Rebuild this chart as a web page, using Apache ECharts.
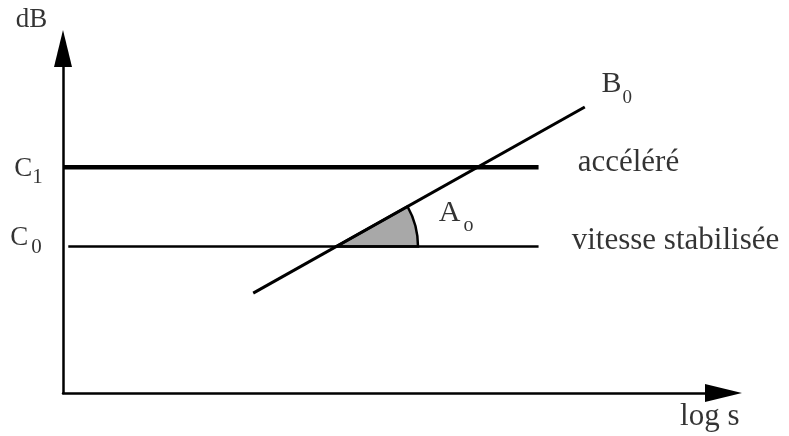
<!DOCTYPE html>
<html>
<head>
<meta charset="utf-8">
<script src="https://cdn.jsdelivr.net/npm/echarts@6/dist/echarts.min.js"></script>
<style>
  html, body { margin: 0; padding: 0; background: #fff; }
  #chart { width: 789px; height: 436px; }
</style>
</head>
<body>
<div id="chart"></div>
<script>
// axes run 0..10 in both directions (log s, dB)
const c1Line = [[0, 6.55], [7.2, 6.55]];      // accéléré
const c0Line = [[0.08, 4.25], [7.2, 4.25]];   // vitesse stabilisée
const b0Line = [[2.88, 2.90], [7.90, 8.30]];  // droite B0
const angleRadius = 1.24;                     // rayon de l'angle A0, en unités de log s

// annotations: text, anchor [x, y], align
const noteTexts   = ['dB', 'log s', '{m|C}{s1|1}', '{m|C}{s0|0}', '{m|B}{sb|0}', '{m|A}{sa|o}', 'accéléré', 'vitesse stabilisée'];
const noteAnchors = [[-0.47, 10.83], [9.80, -0.70], [-0.515, 6.50], [-0.553, 4.50], [8.39, 8.94], [5.96, 5.22], [7.80, 6.68], [7.71, 4.41]];
const noteAligns  = ['center', 'center', 'center', 'center', 'center', 'center', 'left', 'left'];
const noteSizes   = [27, 31, 27, 27, 30, 30, 31, 31];

const FONT = 'Liberation Serif';

// where B0 crosses C0: centre of the shaded angle
let t = (c0Line[0][1] - b0Line[0][1]) / (b0Line[1][1] - b0Line[0][1]);
let angleCentre = [b0Line[0][0] + t * (b0Line[1][0] - b0Line[0][0]), c0Line[0][1]];

let rich = {
  m:  { fontFamily: FONT, fontSize: 27, color: '#000' },
  s1: { fontFamily: FONT, fontSize: 21, color: '#000', padding: [18, 0, 0, 0] },
  s0: { fontFamily: FONT, fontSize: 21, color: '#000', padding: [20, 0, 0, 3] },
  sb: { fontFamily: FONT, fontSize: 19, color: '#000', padding: [27, 0, 0, 1] },
  sa: { fontFamily: FONT, fontSize: 20, color: '#000', padding: [26, 0, 0, 3] }
};

let notes = noteTexts.map(function (txt, i) {
  let r = JSON.parse(JSON.stringify(rich));
  r.m.fontSize = noteSizes[i];
  return {
    value: noteAnchors[i],
    label: {
      show: true,
      position: [0, 0],
      align: noteAligns[i],
      verticalAlign: 'middle',
      formatter: txt,
      fontFamily: FONT,
      fontSize: noteSizes[i],
      color: '#000',
      rich: r
    }
  };
});

function hline(data, width) {
  return {
    type: 'line',
    data: data,
    symbol: 'none',
    silent: true,
    z: 4,
    lineStyle: { color: '#000', width: width }
  };
}

let axisCommon = {
  type: 'value',
  min: 0,
  max: 10,
  splitLine: { show: false },
  axisTick: { show: false },
  axisLabel: { show: false },
  axisLine: {
    show: true,
    symbol: ['none', 'triangle'],
    symbolSize: [18, 37],
    lineStyle: { color: '#000', width: 2.5 }
  }
};

let myChart = echarts.init(document.getElementById('chart'), null, { renderer: 'canvas' });

option = {
  backgroundColor: '#fff',
  animation: false,
  grid: { left: 63, right: 65.5, top: 48.5, bottom: 43 },
  xAxis: axisCommon,
  yAxis: axisCommon,
  series: [
    {
      type: 'custom',
      z: 2,
      silent: true,
      data: [angleCentre],
      renderItem: function (params, api) {
        let c = api.coord([api.value(0), api.value(1)]);
        let edge = api.coord([api.value(0) + angleRadius, api.value(1)]);
        let far = api.coord(b0Line[1]);
        let ang = Math.atan2(far[1] - c[1], far[0] - c[0]);
        return {
          type: 'sector',
          shape: { cx: c[0], cy: c[1], r0: 0, r: edge[0] - c[0], startAngle: ang, endAngle: 0, clockwise: true },
          style: { fill: '#a8a8a8', stroke: '#000', lineWidth: 2.5 }
        };
      }
    },
    hline(c1Line, 4.5),
    hline(c0Line, 2.5),
    hline(b0Line, 3),
    {
      type: 'scatter',
      symbol: 'circle',
      symbolSize: 1,
      clip: false,
      silent: true,
      z: 5,
      itemStyle: { color: 'transparent' },
      data: notes
    }
  ]
};

if (option && typeof option === 'object') {
  myChart.setOption(option, true);
}
</script>
</body>
</html>
